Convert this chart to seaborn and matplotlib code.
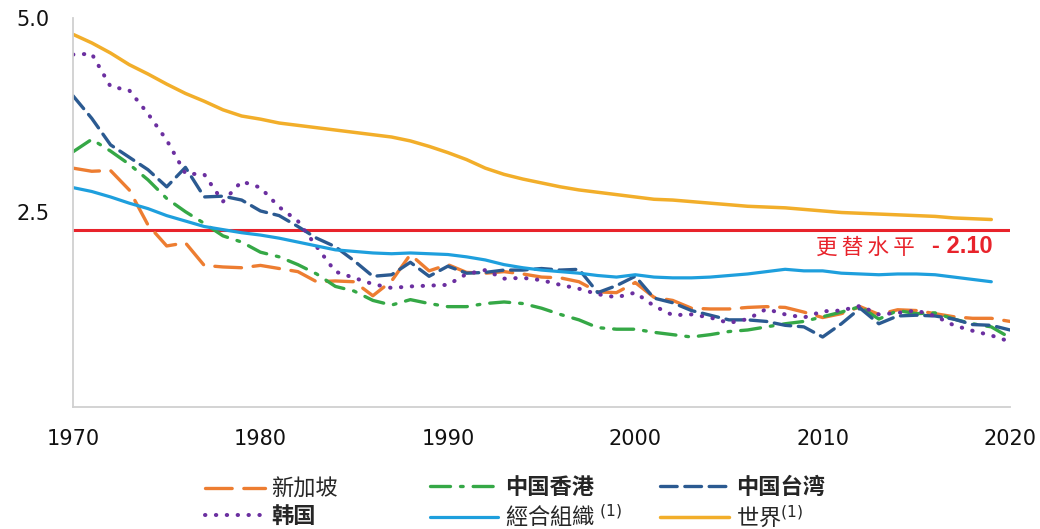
import matplotlib
matplotlib.use("Agg")
import matplotlib.pyplot as plt
import seaborn as sns
import pandas as pd
from matplotlib.lines import Line2D

# ---- data (total fertility rate) ----
years = list(range(1970, 2021))
years_to_2019 = list(range(1970, 2020))

singapore = [3.07, 3.03, 3.04, 2.79, 2.34, 2.07, 2.11, 1.82, 1.80, 1.79,
             1.82, 1.78, 1.74, 1.61, 1.62, 1.61, 1.43, 1.62, 1.96, 1.75,
             1.83, 1.73, 1.72, 1.74, 1.71, 1.67, 1.66, 1.61, 1.48, 1.47,
             1.60, 1.41, 1.37, 1.27, 1.26, 1.26, 1.28, 1.29, 1.28, 1.22,
             1.15, 1.20, 1.29, 1.19, 1.25, 1.24, 1.20, 1.16, 1.14, 1.14, 1.10]
hong_kong = [3.28, 3.44, 3.29, 3.12, 2.92, 2.68, 2.51, 2.36, 2.20, 2.12,
             1.99, 1.93, 1.83, 1.71, 1.55, 1.49, 1.37, 1.31, 1.38, 1.33,
             1.29, 1.29, 1.33, 1.35, 1.33, 1.27, 1.19, 1.12, 1.02, 1.00,
             1.00, 0.96, 0.93, 0.90, 0.93, 0.97, 0.99, 1.03, 1.07, 1.10,
             1.16, 1.22, 1.29, 1.13, 1.24, 1.20, 1.21, 1.13, 1.07, 1.03, 0.89]
taiwan = [4.00, 3.71, 3.37, 3.21, 3.05, 2.83, 3.08, 2.70, 2.71, 2.66,
          2.52, 2.46, 2.32, 2.17, 2.06, 1.88, 1.68, 1.70, 1.86, 1.68,
          1.81, 1.72, 1.73, 1.76, 1.76, 1.78, 1.76, 1.77, 1.47, 1.56,
          1.68, 1.40, 1.34, 1.24, 1.18, 1.12, 1.12, 1.10, 1.05, 1.03,
          0.90, 1.07, 1.27, 1.07, 1.17, 1.18, 1.17, 1.13, 1.06, 1.05, 0.99]
korea = [4.53, 4.54, 4.12, 4.07, 3.77, 3.43, 3.00, 2.99, 2.64, 2.90,
         2.82, 2.57, 2.39, 2.06, 1.74, 1.66, 1.58, 1.53, 1.55, 1.56,
         1.57, 1.71, 1.76, 1.65, 1.66, 1.63, 1.57, 1.52, 1.45, 1.41,
         1.47, 1.30, 1.18, 1.19, 1.15, 1.08, 1.13, 1.26, 1.19, 1.15,
         1.23, 1.24, 1.30, 1.19, 1.21, 1.24, 1.17, 1.05, 0.98, 0.92, 0.84]
oecd = [2.82, 2.77, 2.70, 2.62, 2.55, 2.46, 2.39, 2.32, 2.28, 2.24,
        2.21, 2.17, 2.12, 2.07, 2.02, 2.00, 1.98, 1.97, 1.98, 1.97,
        1.96, 1.93, 1.89, 1.83, 1.79, 1.76, 1.74, 1.72, 1.69, 1.67,
        1.70, 1.67, 1.66, 1.66, 1.67, 1.69, 1.71, 1.74, 1.77, 1.75,
        1.75, 1.72, 1.71, 1.70, 1.71, 1.71, 1.70, 1.67, 1.64, 1.61]
world = [4.79, 4.68, 4.55, 4.40, 4.28, 4.15, 4.03, 3.93, 3.82, 3.74,
         3.70, 3.65, 3.62, 3.59, 3.56, 3.53, 3.50, 3.47, 3.42, 3.35,
         3.27, 3.18, 3.07, 2.99, 2.93, 2.88, 2.83, 2.79, 2.76, 2.73,
         2.70, 2.67, 2.66, 2.64, 2.62, 2.60, 2.58, 2.57, 2.56, 2.54,
         2.52, 2.50, 2.49, 2.48, 2.47, 2.46, 2.45, 2.43, 2.42, 2.41]

replacement_level = 2.28
replacement_label = "- 2.10"
replacement_name = "更\u2009替\u2009水\u2009平"

labels = ["新加坡", "中国香港", "中国台湾", "韩国", "經合組織 $^{(1)}$", "世界$^{(1)}$"]
bold_labels = ["中国香港", "中国台湾", "韩国"]

x_ticks = [1970, 1980, 1990, 2000, 2010, 2020]
y_ticks = [2.5, 5.0]

sns.set_style("white")
plt.rcParams["font.family"] = ["DejaVu Sans", "Noto Sans CJK SC"]
cjk = ["Noto Sans CJK SC", "DejaVu Sans"]

fig = plt.figure(figsize=(10.4, 5.29), dpi=100)
ax = fig.add_axes([0.0702, 0.2306, 0.9010, 0.7354])

series = [
    (years, singapore, "#ED7D31", (0, (8, 3.5)), 2.4),
    (years, hong_kong, "#35A846", (0, (6, 3, 0.8, 3)), 2.4),
    (years, taiwan, "#2B5A91", (0, (5, 2.3)), 2.4),
    (years, korea, "#6B2FA0", (0, (0.1, 2.6)), 2.9),
    (years_to_2019, oecd, "#1E9FDD", "-", 2.3),
    (years_to_2019, world, "#F2AE2A", "-", 2.5),
]

handles = []
for (xs, ys, color, ls, lw), label in zip(series, labels):
    df = pd.DataFrame({"year": xs, "tfr": ys})
    sns.lineplot(data=df, x="year", y="tfr", color=color, linestyle=ls,
                 linewidth=lw, dash_capstyle="round", ax=ax)
    handles.append(Line2D([], [], color=color, linestyle=ls, linewidth=lw,
                          dash_capstyle="round", label=label))

ax.axhline(replacement_level, color="#E8232B", linewidth=2.2, zorder=1)
ax.text(2012.3, 2.05, replacement_name, color="#E8232B", fontsize=15.5,
        family=cjk, ha="center", va="center")
ax.text(2019.05, 2.06, replacement_label, color="#E8232B", fontsize=17,
        fontweight="bold", family=["Liberation Sans", "DejaVu Sans"],
        ha="right", va="center")

ax.set_xlim(1970, 2020)
ax.set_ylim(0, 5)
ax.set_xticks(x_ticks)
ax.set_xticklabels([str(t) for t in x_ticks], fontsize=15, color="#111111")
ax.set_yticks(y_ticks)
ax.set_yticklabels([f"{t:.1f}" for t in y_ticks], fontsize=15, color="#111111")
ax.tick_params(axis="x", length=0, pad=16)
ax.tick_params(axis="y", length=5, width=1, color="#bbbbbb", pad=12)
ax.set_xlabel("")
ax.set_ylabel("")

for side in ["top", "right"]:
    ax.spines[side].set_visible(False)
for side in ["left", "bottom"]:
    ax.spines[side].set_color("#d0d0d0")
    ax.spines[side].set_linewidth(1.3)

# legend: three fixed-width columns, two rows
col_x = [0.197, 0.413, 0.635]
col_handle = [2.7, 3.1, 3.1]
for c in range(3):
    idx = [c, c + 3]
    leg = fig.legend([handles[i] for i in idx], [labels[i] for i in idx],
                     loc="center left", bbox_to_anchor=(col_x[c], 0.05),
                     ncol=1, frameon=False, borderpad=0, borderaxespad=0,
                     handlelength=col_handle[c], handletextpad=0.3,
                     labelspacing=0.2, prop={"family": cjk, "size": 16})
    for txt in leg.get_texts():
        if txt.get_text() in bold_labels:
            txt.set_fontweight("bold")

fig.savefig("out.png", dpi=100)
